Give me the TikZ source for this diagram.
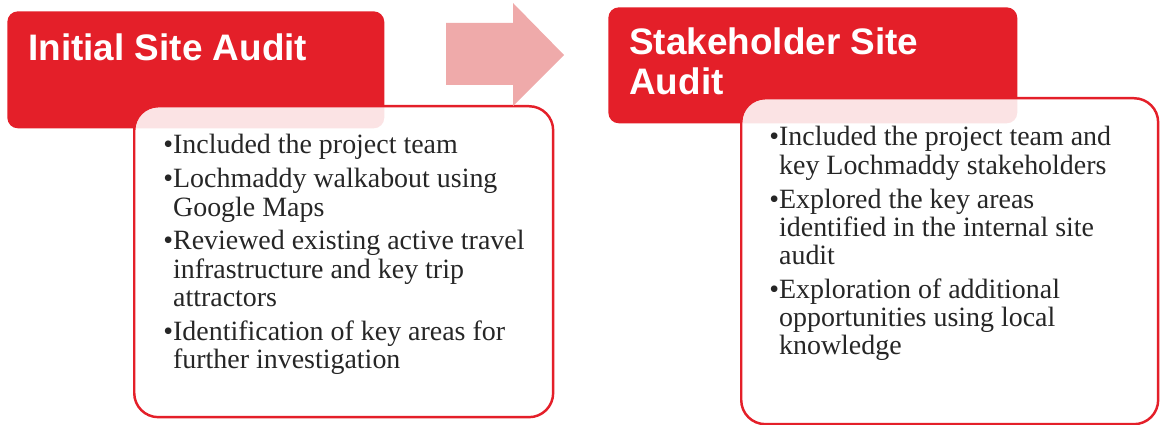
\documentclass[tikz,border=0pt]{standalone}
\usepackage{fontspec}
\setmainfont{Liberation Serif}
\newfontfamily\headfont{Liberation Sans}
\usepackage{tikz}
\usetikzlibrary{positioning}

\definecolor{auditred}{RGB}{228,31,41}
\definecolor{arrowpink}{RGB}{239,170,170}
\definecolor{listgray}{RGB}{38,38,38}
\newcommand{\itemgap}{3.3pt}

\begin{document}
\begin{tikzpicture}[
        x=0.02cm, y=-0.02cm,
        headbox/.style={fill=auditred, rounded corners=6pt, anchor=north west, inner sep=0pt},
        headtext/.style={text=white, font=\headfont\bfseries\fontsize{21pt}{22.8pt}\selectfont, align=left, anchor=base west, inner sep=0pt},
        bodybox/.style={draw=auditred, line width=1.4pt, fill=white, fill opacity=0.88, rounded corners=13.7pt, anchor=north west, inner sep=0pt},
        bodytext/.style={text=listgray, font=\fontsize{15.9pt}{16pt}\selectfont, anchor=base west, inner sep=0pt},
    ]
    \useasboundingbox (0,0) rectangle (1166,425);

    % 第一步
    \node[headbox, minimum width=7.54cm, minimum height=2.34cm] (head1) at (7,11) {};
    \node[headtext] (title1) at (28,61) {Initial Site Audit};
    \node[bodybox, minimum width=8.38cm, minimum height=6.22cm] (body1) at (133,105) {};
    \node[bodytext] (list1) at (163,154) {\begin{tabular}[t]{@{}l@{}l@{}}
        \textbullet & Included the project team\\[\itemgap]
        \textbullet & Lochmaddy walkabout using\\
                    & Google Maps\\[\itemgap]
        \textbullet & Reviewed existing active travel\\
                    & infrastructure and key trip\\
                    & attractors\\[\itemgap]
        \textbullet & Identification of key areas for\\
                    & further investigation
    \end{tabular}};

    % 箭头
    \fill[arrowpink] (446,23) -- (513,23) -- (513,3) -- (564,55) -- (513,106)
        -- (513,85) -- (446,85) -- cycle;

    % 第二步
    \node[headbox, minimum width=8.18cm, minimum height=2.32cm] (head2) at (608,7) {};
    \node[headtext] (title2) at (629,95) {Stakeholder Site\\Audit};
    \node[bodybox, minimum width=8.34cm, minimum height=6.52cm] (body2) at (740,97) {};
    \node[bodytext] (list2) at (769,146) {\begin{tabular}[t]{@{}l@{}l@{}}
        \textbullet & Included the project team and\\
                    & key Lochmaddy stakeholders\\[\itemgap]
        \textbullet & Explored the key areas\\
                    & identified in the internal site\\
                    & audit\\[\itemgap]
        \textbullet & Exploration of additional\\
                    & opportunities using local\\
                    & knowledge
    \end{tabular}};

\end{tikzpicture}
\end{document}
